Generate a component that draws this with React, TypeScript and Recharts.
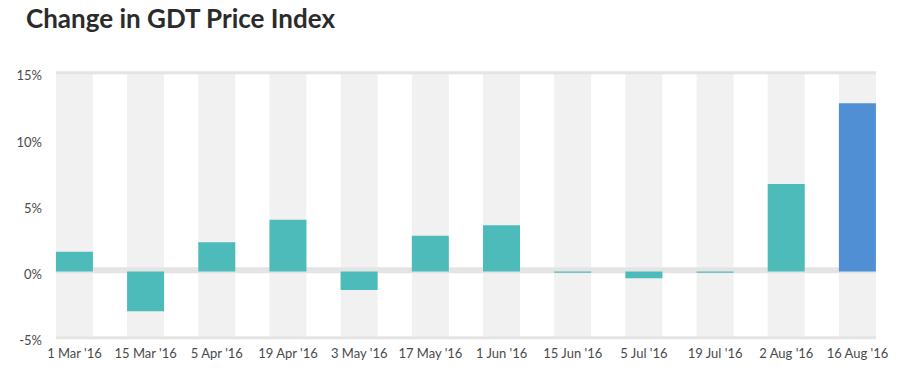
import React from "react";
import {
  BarChart,
  Bar,
  Cell,
  XAxis,
  YAxis,
  ReferenceLine
} from "recharts";

// GDT auction dates
const dates = [
  "1 Mar '16",
  "15 Mar '16",
  "5 Apr '16",
  "19 Apr '16",
  "3 May '16",
  "17 May '16",
  "1 Jun '16",
  "15 Jun '16",
  "5 Jul '16",
  "19 Jul '16",
  "2 Aug '16",
  "16 Aug '16"
];

// change in price index, %
const changes = [1.5, -3.0, 2.2, 3.9, -1.4, 2.7, 3.5, -0.1, -0.5, -0.1, 6.6, 12.7];

const yTicks = [-5, 0, 5, 10, 15];

const TEAL = "#4ebbbb";
const BLUE = "#518fd4";
const STRIPE = "#f1f1f1";
const LINE = "#e4e4e4";
const FONT = "Lato, 'Open Sans', sans-serif";

const data = dates.map((date, i) => ({ idx: i, date, change: changes[i] }));

export default function App() {
  return (
    <div
      style={{
        position: "absolute",
        left: 0,
        top: 0,
        width: 916,
        height: 381,
        background: "#fff",
        fontFamily: FONT
      }}
    >
      <div
        style={{
          position: "absolute",
          left: 26,
          top: 1,
          fontSize: 26,
          fontWeight: 700,
          color: "#2b2b2b",
          lineHeight: "34px"
        }}
      >
        Change in GDT Price Index
      </div>
      <BarChart
        width={916}
        height={381}
        data={data}
        margin={{ top: 72.75, right: 40, bottom: 0, left: 0 }}
        style={{ position: "absolute", left: 0, top: 0 }}
      >
        <XAxis
          dataKey="idx"
          type="number"
          domain={[-0.26, 11.26]}
          ticks={data.map((d) => d.idx)}
          tickFormatter={(v) => dates[v]}
          interval={0}
          axisLine={false}
          tickLine={false}
          tickSize={0}
          tickMargin={11}
          height={43.25}
          tick={{ fill: "#4a4a4a", fontSize: 13, fontFamily: FONT }}
        />
        <YAxis
          domain={[-5, 15]}
          ticks={yTicks}
          tickFormatter={(v) => `${v}%`}
          axisLine={false}
          tickLine={false}
          tickSize={0}
          tickMargin={14}
          width={56}
          tick={{ fill: "#4a4a4a", fontSize: 13, fontFamily: FONT, dy: 3 }}
        />
        <ReferenceLine y={15} stroke={LINE} strokeWidth={3} zIndex={150} />
        <ReferenceLine y={-5} stroke={LINE} strokeWidth={3} zIndex={150} />
        <ReferenceLine y={0.1} stroke={LINE} strokeWidth={6} zIndex={150} />
        <Bar
          dataKey="change"
          barSize={37}
          background={{ fill: STRIPE }}
          isAnimationActive={false}
          zIndex={400}
        >
          {data.map((d, i) => (
            <Cell key={d.date} fill={i === data.length - 1 ? BLUE : TEAL} />
          ))}
        </Bar>
      </BarChart>
    </div>
  );
}
